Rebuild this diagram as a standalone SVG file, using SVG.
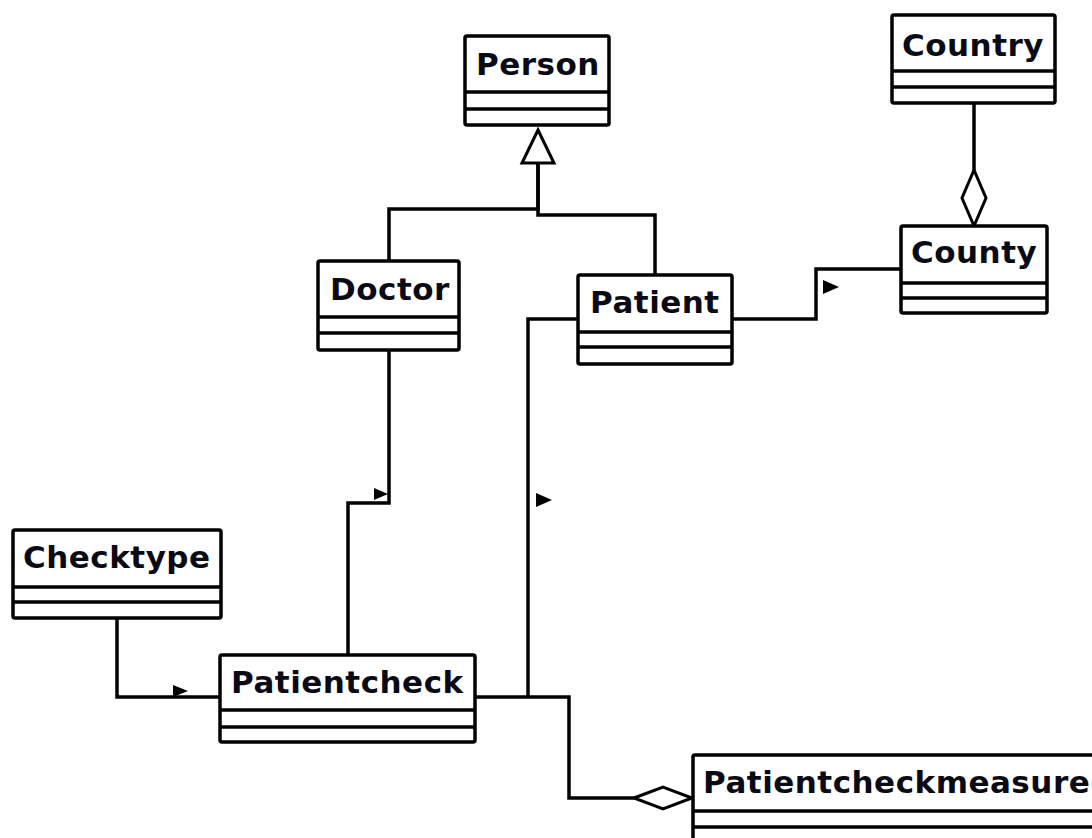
<svg xmlns="http://www.w3.org/2000/svg" width="1092" height="838" viewBox="0 0 1092 838">
  <style>
    .box { fill: #ffffff; stroke: #000000; stroke-width: 3.5; }
    .sep { stroke: #000000; stroke-width: 3.5; }
    .name { font-family: "DejaVu Sans", "Liberation Sans", sans-serif; font-weight: bold; font-size: 31px; letter-spacing: 0.5px; fill: #0a0a14; }
    .wire { fill: none; stroke: #000000; stroke-width: 3.5; stroke-linejoin: miter; }
    .dir { fill: #000000; stroke: none; }
    .hollow { fill: #ffffff; stroke: #000000; stroke-width: 3; }
  </style>
  <rect width="1092" height="838" fill="#ffffff"/>

  <!-- connectors -->
  <g id="connectors">
    <!-- generalisation: Doctor, Patient -> Person -->
    <path class="wire" d="M538,163 V209 H389 V261"/>
    <path class="wire" d="M538,163 V215 H655 V275"/>
    <polygon class="hollow" points="538,130 554,163 522,163"/>

    <!-- Country aggregates County -->
    <path class="wire" d="M974,103 V170"/>
    <polygon class="hollow" points="974,170 986,198 974,226 962,198"/>

    <!-- Patient -> County -->
    <path class="wire" d="M732,319 H816 V269 H901"/>
    <polygon class="dir" points="823,280 839,287 823,294"/>

    <!-- Doctor -> Patientcheck -->
    <path class="wire" d="M389,350 V503 H348 V655"/>
    <polygon class="dir" points="374,488 388,494 374,500"/>

    <!-- Patient -> Patientcheck -->
    <path class="wire" d="M578,319 H528 V697"/>
    <polygon class="dir" points="536,493 552,500 536,507"/>

    <!-- Checktype -> Patientcheck -->
    <path class="wire" d="M117,618 V697 H220"/>
    <polygon class="dir" points="173,685 188,691 173,697"/>

    <!-- Patientcheck aggregated by Patientcheckmeasure -->
    <path class="wire" d="M475,697 H569 V798 H634"/>
    <polygon class="hollow" points="634,798 663,787 692,798 663,809"/>
  </g>

  <g id="person">
    <rect class="box" x="465" y="36" width="144" height="89" rx="2"/>
    <line class="sep" x1="465" y1="92" x2="609" y2="92"/>
    <line class="sep" x1="465" y1="109" x2="609" y2="109"/>
    <text class="name" x="476" y="75">Person</text>
  </g>

  <g id="country">
    <rect class="box" x="892" y="15" width="163" height="88" rx="2"/>
    <line class="sep" x1="892" y1="71" x2="1055" y2="71"/>
    <line class="sep" x1="892" y1="87" x2="1055" y2="87"/>
    <text class="name" x="902" y="56">Country</text>
  </g>

  <g id="county">
    <rect class="box" x="901" y="226" width="146" height="87" rx="2"/>
    <line class="sep" x1="901" y1="283" x2="1047" y2="283"/>
    <line class="sep" x1="901" y1="298" x2="1047" y2="298"/>
    <text class="name" x="911" y="263">County</text>
  </g>

  <g id="doctor">
    <rect class="box" x="318" y="261" width="141" height="89" rx="2"/>
    <line class="sep" x1="318" y1="317" x2="459" y2="317"/>
    <line class="sep" x1="318" y1="333" x2="459" y2="333"/>
    <text class="name" x="330" y="300">Doctor</text>
  </g>

  <g id="patient">
    <rect class="box" x="578" y="275" width="154" height="89" rx="2"/>
    <line class="sep" x1="578" y1="332" x2="732" y2="332"/>
    <line class="sep" x1="578" y1="347" x2="732" y2="347"/>
    <text class="name" x="590" y="313">Patient</text>
  </g>

  <g id="checktype">
    <rect class="box" x="13" y="530" width="208" height="88" rx="2"/>
    <line class="sep" x1="13" y1="587" x2="221" y2="587"/>
    <line class="sep" x1="13" y1="602" x2="221" y2="602"/>
    <text class="name" x="23" y="568">Checktype</text>
  </g>

  <g id="patientcheck">
    <rect class="box" x="220" y="655" width="255" height="87" rx="2"/>
    <line class="sep" x1="220" y1="710" x2="475" y2="710"/>
    <line class="sep" x1="220" y1="727" x2="475" y2="727"/>
    <text class="name" x="231" y="693">Patientcheck</text>
  </g>

  <g id="patientcheckmeasure">
    <rect class="box" x="693" y="755" width="420" height="100" rx="2"/>
    <line class="sep" x1="693" y1="811" x2="1092" y2="811"/>
    <line class="sep" x1="693" y1="827" x2="1092" y2="827"/>
    <text class="name" x="703" y="793">Patientcheckmeasure</text>
  </g>
</svg>
